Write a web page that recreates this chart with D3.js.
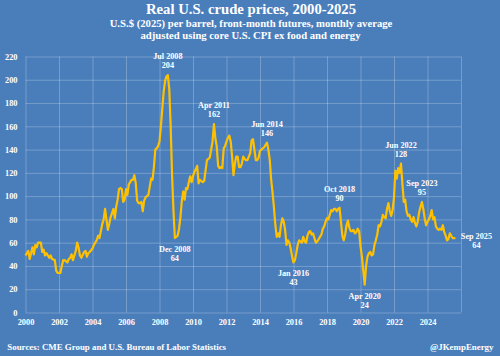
<!DOCTYPE html>
<html>
<head>
<meta charset="utf-8">
<script src="https://cdn.jsdelivr.net/npm/d3@7"></script>
<style>
  html, body { margin: 0; padding: 0; background: #4a7ebb; }
  svg { display: block; }
  text { font-family: "Liberation Serif", "Times New Roman", serif; font-weight: bold; fill: #ffffff; }
</style>
</head>
<body>
<svg id="chart" width="500" height="356"></svg>
<script>
// Months since Jan 2000 (0 = Jan 2000) and real price (US$ 2025 per barrel)
const monthIdx = [
  0,2,3,5,6,7,8,9,11,12,13,14,15,17,18,19,21,22,23,25,26,27,28,30,31,32,33,34,36,37,38,39,40,42,43,44,45,46,48,49,50,51,52,53,
  55,56,57,58,59,60,61,63,64,65,66,67,68,69,70,71,72,73,74,75,76,77,78,79,80,81,82,83,84,85,86,87,88,89,90,91,92,93,94,95,96,97,98,99,100,101,
  102,103,104,105,106,107,108,109,110,111,112,113,114,115,116,117,118,119,120,121,122,123,124,125,126,127,128,129,130,131,132,133,134,
  135,136,137,138,139,140,141,142,143,144,145,146,147,148,149,150,151,152,153,154,155,156,157,158,159,160,161,162,163,164,165,166,167,168,169,170,171,172,
  173,174,175,176,177,178,179,180,181,182,183,184,185,186,187,188,189,190,191,192,193,194,195,196,197,198,199,200,201,202,203,204,205,206,207,208,209,210,
  211,212,213,214,215,216,217,218,219,220,221,222,223,224,225,226,227,228,229,230,231,232,233,234,235,236,237,238,239,240,241,242,243,244,245,246,247,248,249,
  250,251,252,253,254,255,256,257,258,259,260,261,262,263,264,265,266,267,268,269,270,271,272,273,274,275,276,277,278,279,280,281,282,283,284,285,286,287,288,
  289,290,291,292,293,294,295,296,297,298,299,300,301,302,303,304,305,306,307,308
];
const prices = [
  49,53,46,56,50,58,56,60,60,52,54,49,51,47,49,46,45,36,34,34,40,45,45,43,46,47,50,45,53,60,56,49,47,52,53,48,51,52,55,58,60,62,66,64,
  76,80,89,80,71,76,82,89,81,91,97,106,107,106,95,97,106,101,110,112,114,114,118,111,96,94,94,95,87,96,99,100,101,108,115,114,125,140,141,143,147,160,175,190,199,203,
  204,192,160,118,88,64,65,66,72,82,96,104,97,107,106,112,117,112,117,121,123,126,111,114,113,112,113,122,131,132,133,140,147,
  162,150,143,126,124,125,124,141,143,147,150,152,147,134,118,128,134,134,125,125,128,134,132,131,131,134,137,148,149,140,131,131,133,139,140,141,142,144,
  146,140,131,114,103,90,75,65,68,65,75,81,78,71,58,62,60,55,48,43,45,51,58,62,61,60,65,61,60,66,69,70,67,68,64,60,61,63,
  65,67,72,74,78,81,80,84,88,87,89,89,87,89,90,78,66,62,67,75,79,73,70,70,71,68,69,72,70,57,48,36,24,40,48,51,52,49,50,
  58,62,67,75,74,78,84,82,81,89,94,87,83,88,99,122,115,124,120,128,111,95,97,87,83,84,80,78,82,77,74,78,86,91,95,89,81,75,78,
  80,83,88,80,82,74,72,71,72,71,75,69,66,62,63,68,66,64,64,64
];

const yTicks = [0,20,40,60,80,100,120,140,160,180,200,220];
const xTicks = [2000,2002,2004,2006,2008,2010,2012,2014,2016,2018,2020,2022,2024,2026];
const xTickLabels = ["2000","2002","2004","2006","2008","2010","2012","2014","2016","2018","2020","2022","2024",""];

const annoText = ["Jul 2008","Dec 2008","Apr 2011","Jun 2014","Jan 2016","Oct 2018","Apr 2020","Jun 2022","Sep 2023","Sep 2025"];
const annoValue = ["204","64","162","146","43","90","24","128","95","64"];
const annoMonth = [102,107,135,173,192,225,243,269,284,308];
const annoPrice = [204,64,162,146,43,90,24,128,95,64];
const annoSide = ["above","below","above","above","below","above","below","above","above","right"];

const titleText = "Real U.S. crude prices, 2000-2025";
const subtitle1 = "U.S.$ (2025) per barrel, front-month futures, monthly average";
const subtitle2 = "adjusted using core U.S. CPI ex food and energy";
const sourceText = "Sources: CME Group and U.S. Bureau of Labor Statistics";
const handleText = "@JKempEnergy";

(function () {
  const svg = d3.select("#chart");
  const W = 500, H = 356;
  const pLeft = 25.5, pRight = 461, pTop = 56.5, pBottom = 312.5;

  svg.append("rect").attr("width", W).attr("height", H).attr("fill", "#4a7ebb");

  const x = d3.scaleLinear().domain([2000, 2026]).range([pLeft, pRight]);
  const y = d3.scaleLinear().domain([0, 220]).range([pBottom, pTop]);
  const gridColor = "rgba(255,255,255,0.24)";

  const gy = svg.append("g").attr("transform", `translate(${pLeft},0)`)
    .call(d3.axisLeft(y).tickValues(yTicks).tickSize(-(pRight - pLeft)).tickPadding(8).tickFormat(d3.format("d")));
  gy.select(".domain").remove();
  gy.selectAll("line").attr("stroke", gridColor).attr("stroke-width", 1);
  gy.selectAll("text").attr("font-size", "8.4px").attr("fill", "#fff").attr("font-family", "Liberation Serif").attr("font-weight", "bold");

  const gx = svg.append("g").attr("transform", `translate(0,${pBottom})`)
    .call(d3.axisBottom(x).tickValues(xTicks).tickSize(-(pBottom - pTop)).tickPadding(7).tickFormat((d, i) => xTickLabels[i]));
  gx.select(".domain").remove();
  gx.selectAll("line").attr("stroke", gridColor).attr("stroke-width", 1);
  gx.selectAll("text").attr("font-size", "8.4px").attr("fill", "#fff").attr("font-family", "Liberation Serif").attr("font-weight", "bold");

  const data = monthIdx.map((m, i) => ({ t: 2000 + m / 12, v: prices[i] }));
  const line = d3.line().x(d => x(d.t)).y(d => y(d.v)).curve(d3.curveLinear);
  svg.append("path").datum(data)
    .attr("d", line)
    .attr("fill", "none")
    .attr("stroke", "#ffc000")
    .attr("stroke-width", 2.2)
    .attr("stroke-linejoin", "round");

  annoText.forEach((t, i) => {
    const px = x(2000 + annoMonth[i] / 12);
    const py = y(annoPrice[i]);
    let tx = px, y1, y2;
    if (annoSide[i] === "above") { y1 = py - 16; y2 = py - 7; }
    else if (annoSide[i] === "below") { y1 = py + 14; y2 = py + 23; }
    else { tx = px + 21; y1 = py + 0.5; y2 = py + 9.5; }
    const g = svg.append("g").attr("font-size", "8.2px").attr("text-anchor", "middle");
    g.append("text").attr("x", tx).attr("y", y1).text(t);
    g.append("text").attr("x", tx).attr("y", y2).text(annoValue[i]);
  });

  svg.append("text").attr("x", 251).attr("y", 14).attr("text-anchor", "middle")
    .attr("font-size", "14.7px").text(titleText);
  svg.append("text").attr("x", 251).attr("y", 26.5).attr("text-anchor", "middle")
    .attr("font-size", "10.7px").text(subtitle1);
  svg.append("text").attr("x", 250.5).attr("y", 38.5).attr("text-anchor", "middle")
    .attr("font-size", "10.7px").text(subtitle2);

  svg.append("text").attr("x", 7.3).attr("y", 350).attr("font-size", "8.9px").text(sourceText);
  svg.append("text").attr("x", 493.5).attr("y", 350).attr("text-anchor", "end").attr("font-size", "8.9px").text(handleText);
})();
</script>
</body>
</html>
